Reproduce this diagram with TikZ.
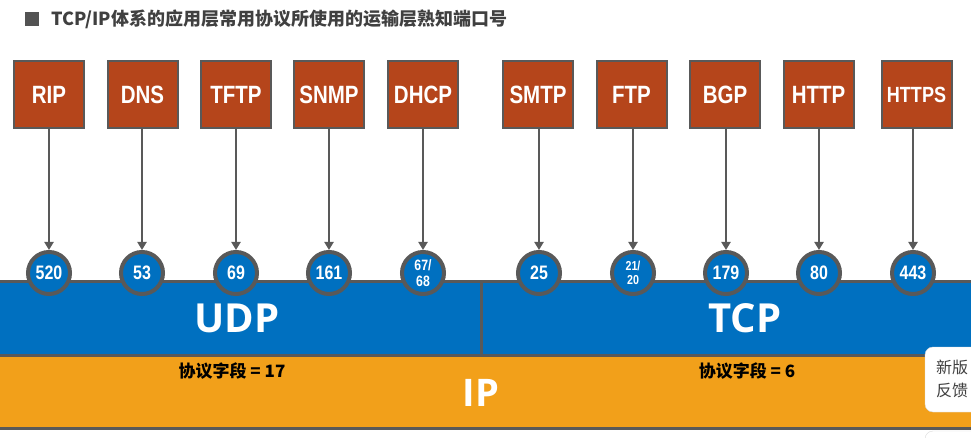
\documentclass[tikz,border=0pt]{standalone}
\usepackage{fontspec}
\setmainfont{Liberation Sans}
\newfontfamily\narrowb{Liberation Sans}[FakeStretch=0.82]
\newfontfamily\cjk{Noto Sans CJK SC}
\newfontfamily\osans{Open Sans}
\usetikzlibrary{arrows.meta}
\definecolor{boxfill}{HTML}{B5451B}
\definecolor{bandblue}{HTML}{0070C0}
\definecolor{bandorange}{HTML}{F2A01A}
\definecolor{edgegray}{HTML}{595959}
\definecolor{titlegray}{HTML}{404040}
\tikzset{
  protobox/.style={draw=edgegray, line width=2pt, fill=boxfill, minimum width=70pt, minimum height=67pt, inner sep=0pt,
    text=white, font=\narrowb\bfseries\fontsize{25}{27}\selectfont},
  portcircle/.style={circle, draw=edgegray, line width=4pt, fill=bandblue, minimum size=42pt, inner sep=0pt,
    text=white, font=\narrowb\bfseries\fontsize{19.5}{20}\selectfont, align=center},
  portarrow/.style={draw=edgegray, line width=2.2pt, -{Triangle[width=9pt,length=8pt]}},
  bandtext/.style={text=white, font=\osans\bfseries\fontsize{40}{44}\selectfont},
  fieldtext/.style={text=black, font=\cjk\bfseries\fontsize{17}{18}\selectfont},
}
\begin{document}
\begin{tikzpicture}[x=1pt,y=-1pt]
\useasboundingbox (0,0) rectangle (971,438);
\clip (0,0) rectangle (971,438);
\fill[white] (0,0) rectangle (971,438);
% title
\fill[titlegray!90] (25,12) rectangle (39,26);
\node[anchor=west, inner sep=0pt, text=titlegray, font=\cjk\bfseries\fontsize{18}{20}\selectfont] (title) at (51,19) {TCP/IP体系的应用层常用协议所使用的运输层熟知端口号};
% IP band
\fill[bandorange] (-5,356) rectangle (976,427);
\draw[edgegray, line width=3pt] (-5,428.5) -- (976,428.5);
% transport bands
\draw[edgegray, line width=3pt, fill=bandblue] (-5,281) rectangle (481,355);
\draw[edgegray, line width=3pt, fill=bandblue] (481,281) rectangle (980,355);
\node[bandtext] (udp) at (237,318) {UDP};
\node[bandtext] (tcp) at (745,318) {TCP};
\node[bandtext, font=\osans\bfseries\fontsize{38}{40}\selectfont] (ip) at (481,393) {IP};
\node[fieldtext] (f17) at (232,371) {协议字段 = 17};
\node[fieldtext] (f6) at (747,371) {协议字段 = 6};
% application boxes
\node[protobox] (b1) at (49,94.5) {RIP};
\node[protobox] (b2) at (142.5,94.5) {DNS};
\node[protobox] (b3) at (236,94.5) {TFTP};
\node[protobox] (b4) at (329,94.5) {SNMP};
\node[protobox] (b5) at (423,94.5) {DHCP};
\node[protobox] (b6) at (538,94.5) {SMTP};
\node[protobox] (b7) at (631.5,94.5) {FTP};
\node[protobox] (b8) at (725,94.5) {BGP};
\node[protobox] (b9) at (818.5,94.5) {HTTP};
\node[protobox, font=\narrowb\bfseries\fontsize{22}{24}\selectfont] (b10) at (916.5,94.5) {HTTPS};
% port circles
\node[portcircle] (c1) at (49,273) {520};
\node[portcircle] (c2) at (142,273) {53};
\node[portcircle] (c3) at (236,273) {69};
\node[portcircle] (c4) at (329,273) {161};
\node[portcircle, font=\narrowb\bfseries\fontsize{15}{16}\selectfont] (c5) at (423,273) {67/\\68};
\node[portcircle] (c6) at (539,273) {25};
\node[portcircle, font=\narrowb\bfseries\fontsize{13}{14}\selectfont] (c7) at (633,273) {21/\\20};
\node[portcircle] (c8) at (726,273) {179};
\node[portcircle] (c9) at (819,273) {80};
\node[portcircle] (c10) at (913,273) {443};
% arrows
\foreach \i in {1,...,10} {
  \draw[portarrow] (c\i |- b\i.south) -- (c\i.north);
}
% feedback widget overlay
\draw[gray!30, fill=white, rounded corners=8pt] (925,347) rectangle (990,412);
\node[anchor=west, align=left, inner sep=0pt, text=black!75, font=\cjk\fontsize{16}{23}\selectfont] (fb) at (936,379) {新版\\反馈};
\draw[gray!30, fill=white, rounded corners=8pt] (925,431) rectangle (990,470);
\end{tikzpicture}
\end{document}
